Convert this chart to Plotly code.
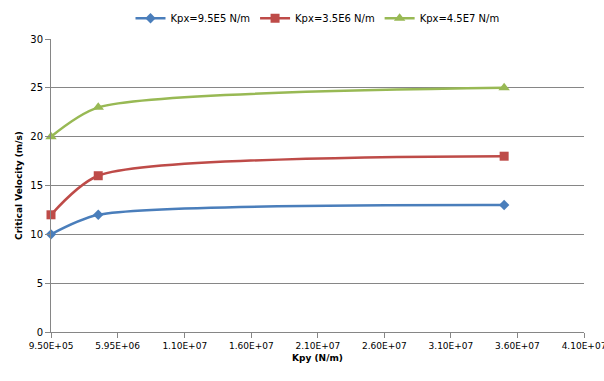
import plotly.graph_objects as go

# Kpy stiffness values (N/m)
kpy = [9.5e5, 4.5e6, 3.5e7]

# Critical velocity (m/s) for each Kpx stiffness
v_kpx_95e5 = [10, 12, 13]
v_kpx_35e6 = [12, 16, 18]
v_kpx_45e7 = [20, 23, 25]

series_names = ["Kpx=9.5E5 N/m", "Kpx=3.5E6 N/m", "Kpx=4.5E7 N/m"]

x_tick_vals = [9.5e5, 5.95e6, 1.10e7, 1.60e7, 2.10e7, 2.60e7, 3.10e7, 3.60e7, 4.10e7]
x_tick_text = ["9.50E+05", "5.95E+06", "1.10E+07", "1.60E+07", "2.10E+07",
               "2.60E+07", "3.10E+07", "3.60E+07", "4.10E+07"]

colors = ["#4A7EBB", "#BE4B48", "#98B954"]
symbols = ["diamond", "square", "triangle-up"]
sizes = [8, 9, 10]

fig = go.Figure()
for name, vals, c, s, sz in zip(series_names, [v_kpx_95e5, v_kpx_35e6, v_kpx_45e7],
                                colors, symbols, sizes):
    fig.add_trace(go.Scatter(
        x=kpy, y=vals, name=name, mode="lines+markers",
        line=dict(color=c, width=2.5, shape="spline", smoothing=0.7),
        marker=dict(symbol=s, size=sz, color=c),
        cliponaxis=False,
    ))

font = "DejaVu Sans"
fig.update_layout(
    width=604, height=381,
    margin=dict(l=51, r=20, t=39, b=49, autoexpand=False),
    paper_bgcolor="white", plot_bgcolor="white",
    font=dict(family=font, size=10, color="#000000"),
    showlegend=True,
    legend=dict(orientation="h", x=0.5, xanchor="center", y=0.99, yanchor="top",
                yref="container", font=dict(size=10), traceorder="normal",
                bgcolor="rgba(0,0,0,0)"),
)

fig.update_xaxes(
    range=[9.5e5, 4.1e7], tickvals=x_tick_vals, ticktext=x_tick_text,
    ticklabeloverflow="allow",
    showgrid=False, showline=True, linecolor="#868686", linewidth=1,
    ticks="outside", ticklen=5, tickcolor="#868686",
    tickfont=dict(size=9, family=font, color="#000000"),
    title=dict(text="<b>Kpy (N/m)</b>", font=dict(size=9, family=font), standoff=4),
    zeroline=False,
)
fig.update_yaxes(
    range=[0, 30], dtick=5, showgrid=True, gridcolor="#868686", gridwidth=1,
    showline=True, linecolor="#868686", linewidth=1,
    ticks="outside", ticklen=5, tickcolor="#868686",
    tickfont=dict(size=10, family=font, color="#000000"),
    title=dict(text="<b>Critical Velocity (m/s)</b>", font=dict(size=9, family=font), standoff=6),
    zeroline=False,
)

fig.write_html("out.html")
